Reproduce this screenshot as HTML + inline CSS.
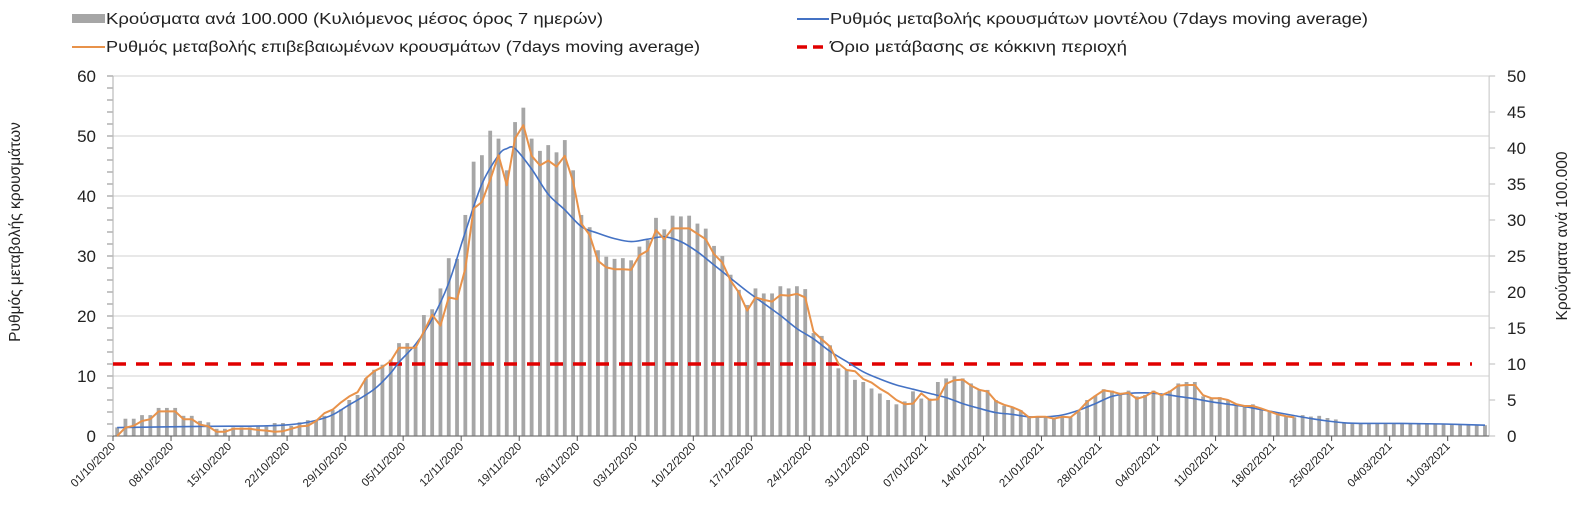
<!DOCTYPE html>
<html><head><meta charset="utf-8"><style>
html,body{margin:0;padding:0;background:#fff;}
svg{display:block;font-family:"Liberation Sans",sans-serif;}
</style></head><body>
<svg id="chart" width="1585" height="521" viewBox="0 0 1585 521" xmlns="http://www.w3.org/2000/svg">
<g id="legend" font-size="15.5" fill="#222">
 <g><rect x="72" y="14" width="33" height="9" fill="#a6a6a6"/><text x="106" y="24" textLength="497" lengthAdjust="spacingAndGlyphs">Κρούσματα ανά 100.000 (Κυλιόμενος μέσος όρος 7 ημερών)</text></g>
 <g><line x1="72" y1="47" x2="105" y2="47" stroke="#e8924a" stroke-width="2"/><text x="106" y="52" textLength="594" lengthAdjust="spacingAndGlyphs">Ρυθμός μεταβολής επιβεβαιωμένων κρουσμάτων (7days moving average)</text></g>
 <g><line x1="797" y1="19" x2="829" y2="19" stroke="#4472c4" stroke-width="2"/><text x="830" y="24" textLength="538" lengthAdjust="spacingAndGlyphs">Ρυθμός μεταβολής κρουσμάτων μοντέλου (7days moving average)</text></g>
 <g><line x1="797" y1="47" x2="829" y2="47" stroke="#e00000" stroke-width="3.5" stroke-dasharray="10,6"/><text x="830" y="52" textLength="297" lengthAdjust="spacingAndGlyphs">Όριο μετάβασης σε κόκκινη περιοχή</text></g>
</g>
<text font-size="15.5" fill="#222" text-anchor="middle" transform="translate(20,232) rotate(-90)">Ρυθμός μεταβολής κρουσμάτων</text>
<text font-size="15.5" fill="#222" text-anchor="middle" transform="translate(1567,236) rotate(-90)">Κρούσματα ανά 100.000</text>
<g id="grid"></g>
<g id="bars"></g>
<g id="axes"></g>
<g id="lines"></g>
</svg>
<script>
const startDate = [2020, 9, 1];
const leftTicks = [0,10,20,30,40,50,60];
const rightTicks = [0,5,10,15,20,25,30,35,40,45,50];
const threshold = 12;
const casesBars = [1.2,2.4,2.4,2.9,2.9,3.9,3.9,3.9,2.8,2.8,
2.1,1.9,1.0,1.0,1.2,1.2,1.2,1.3,1.3,1.8,
1.8,1.4,1.9,2.2,2.1,2.8,3.6,3.7,5.0,5.7,
8.0,9.2,9.9,10.6,12.9,12.9,12.4,16.8,17.6,20.5,
24.7,24.6,30.7,38.1,39.0,42.4,41.3,36.9,43.6,45.6,
41.3,39.6,40.4,39.4,41.1,36.9,30.7,29.0,25.8,24.9,
24.6,24.7,24.4,26.3,27.2,30.3,28.7,30.6,30.5,30.6,
29.5,28.8,26.4,25.0,22.4,20.3,18.2,20.5,19.8,19.8,
20.8,20.5,20.8,20.4,14.3,13.9,12.6,9.4,9.2,7.8,
7.5,6.6,5.9,5.0,4.4,4.8,6.2,5.2,5.2,7.5,
8.0,8.3,8.0,7.3,6.4,6.4,5.0,4.2,4.0,3.6,
2.6,2.6,2.6,2.5,2.6,2.6,3.4,5.0,5.6,6.5,
6.3,6.0,6.3,5.5,5.7,6.3,5.7,6.3,7.3,7.5,
7.5,5.5,5.2,5.4,5.0,4.3,4.1,4.4,3.8,3.4,
2.9,2.7,2.6,2.9,2.7,2.8,2.5,2.3,1.8,1.7,
1.7,1.7,1.7,1.7,1.7,1.7,1.7,1.7,1.7,1.7,
1.6,1.6,1.6,1.6,1.5,1.5];
const confirmedRate = [0,1.4,1.7,2.5,2.8,4.1,4.1,4.1,2.8,2.8,
1.9,1.6,0.7,0.7,1.2,1.2,1.2,1.0,0.9,0.7,
0.8,1.2,1.6,1.7,2.5,3.8,4.4,5.6,6.6,7.3,
9.6,10.8,11.5,12.5,14.7,14.7,14.7,17.4,20.2,18.4,
23.1,22.8,27.9,37.9,39.0,42.7,46.8,41.8,49.6,51.8,
46.7,45.1,45.9,44.9,46.7,42.4,35.4,33.5,29.2,28.1,
27.8,27.8,27.7,30.1,30.9,34.3,32.8,34.6,34.6,34.6,
33.7,32.8,30.3,28.9,25.9,23.9,20.9,23.1,22.7,22.4,
23.5,23.4,23.7,23.1,17.4,16.1,14.9,12.1,11.0,10.8,
9.5,8.9,7.9,7.1,6.0,5.3,5.4,7.1,6.0,6.1,
8.7,9.3,9.4,8.4,7.7,7.4,5.8,5.2,4.8,4.2,
3.1,3.2,3.2,2.9,3.2,3.1,4.2,5.7,6.7,7.6,
7.4,7.0,7.2,6.2,6.6,7.4,6.8,7.4,8.4,8.5,
8.5,6.8,6.3,6.3,6.0,5.3,5.0,5.0,4.6,4.1,
3.6,3.3,3.1];
const modelDays = [0,10,20,25,28,31,33,34,36,38,40,42,44,46,47,48,50,52,54,56,58,60,62,64,66,68,70,72,74,76,78,80,82,84,86,88,90,92,94,96,98,100,102,104,106,108,110,112,114,116,118,120,122,124,126,128,130,132,134,136,138,140,142,144,146,148,150,155,160,165];
const modelRate = [1.4,1.6,1.8,3.0,5.2,7.8,10.5,12.3,15.3,19.5,25.5,34,42,46.8,47.9,47.9,44.5,40.3,37.7,34.9,33.8,32.9,32.4,32.8,33.2,32.4,30.7,28.5,26.3,24.1,22.1,20.1,17.9,16.2,14.1,12.4,10.7,9.5,8.5,7.8,7.1,6.4,5.4,4.6,3.9,3.6,3.2,3.2,3.5,4.3,5.4,6.6,7.1,7.2,7.0,6.6,6.2,5.7,5.3,4.9,4.4,3.9,3.4,2.9,2.5,2.2,2.1,2.1,2.0,1.8];

const NS='http://www.w3.org/2000/svg';
const X0=113, DAY=8.29, NDAYS=166, YB=436, YT=76;
const xDay = d => X0 + DAY*d;
const xBar = i => X0 + DAY*(i+0.5);
const yL = v => YB - (v/60)*(YB-YT);
const yR = v => YB - (v/50)*(YB-YT);
const X1 = xDay(NDAYS);
function mk(tag, attrs, parent){const e=document.createElementNS(NS,tag);for(const k in attrs)e.setAttribute(k,attrs[k]);parent.appendChild(e);return e;}
const grid=document.getElementById('grid'), bars=document.getElementById('bars'), axes=document.getElementById('axes'), lines=document.getElementById('lines');

leftTicks.forEach(t=>{
  if(t>0){const g=mk('line',{x1:X0,x2:X1,y1:yL(t),y2:yL(t),stroke:'#d9d9d9','stroke-width':1.2},grid);
  
  }
  const l=mk('text',{x:96,y:yL(t)+6,'text-anchor':'end','font-size':17,fill:'#222'},axes);
  l.textContent=t;
  
  
});
for(let v=0;v<=60;v+=2){mk('line',{x1:X0-6,x2:X0,y1:yL(v),y2:yL(v),stroke:'#888','stroke-width':1},axes);}
rightTicks.forEach(t=>{
  mk('line',{x1:X1,x2:X1+6,y1:yR(t),y2:yR(t),stroke:'#bbb','stroke-width':1},axes);
  const l=mk('text',{x:1507,y:yR(t)+6,'font-size':17,fill:'#222'},axes);
  l.textContent=t;
  
  
});
mk('line',{x1:X0,x2:X0,y1:YT,y2:YB,stroke:'#bbb','stroke-width':1.2},axes);
mk('line',{x1:X1,x2:X1,y1:YT,y2:YB,stroke:'#ccc','stroke-width':1.2},axes);
mk('line',{x1:X0,x2:X1,y1:YB,y2:YB,stroke:'#777','stroke-width':1.2},axes);

casesBars.forEach((v,i)=>{
  const r=mk('rect',{x:xBar(i)-1.9,y:yR(v),width:3.8,height:YB-yR(v),fill:'#a6a6a6'},bars);
  
  
});

const pad=n=>String(n).padStart(2,'0');
for(let d=0; d<NDAYS; d+=7){
  const dt=new Date(startDate[0],startDate[1],startDate[2]+d);
  const x=xDay(d);
  mk('line',{x1:x,x2:x,y1:YB,y2:YB+5,stroke:'#555','stroke-width':1},axes);
  const t=mk('text',{'text-anchor':'end','font-size':11.5,fill:'#222',transform:`translate(${x+3},${YB+11}) rotate(-45)`},axes);
  t.textContent=pad(dt.getDate())+'/'+pad(dt.getMonth()+1)+'/'+dt.getFullYear();
  
  
}

const th=mk('line',{x1:X0,x2:1472,y1:yL(threshold),y2:yL(threshold),stroke:'#e00000','stroke-width':3.5,'stroke-dasharray':'13,10'},lines);



const pts=modelDays.map((d,i)=>[xBar(d),yL(modelRate[i])]);
let dstr='M'+pts[0][0]+','+pts[0][1];
for(let i=0;i<pts.length-1;i++){
  const p0=pts[Math.max(0,i-1)],p1=pts[i],p2=pts[i+1],p3=pts[Math.min(pts.length-1,i+2)];
  const c1=[p1[0]+(p2[0]-p0[0])/6,p1[1]+(p2[1]-p0[1])/6], c2=[p2[0]-(p3[0]-p1[0])/6,p2[1]-(p3[1]-p1[1])/6];
  dstr+=` C${c1[0]},${c1[1]} ${c2[0]},${c2[1]} ${p2[0]},${p2[1]}`;
}
const mp=mk('path',{d:dstr,fill:'none',stroke:'#4472c4','stroke-width':1.6},lines);



const op=mk('polyline',{points:confirmedRate.map((v,i)=>xBar(i)+','+yL(v)).join(' '),fill:'none',stroke:'#e8924a','stroke-width':2,'stroke-linejoin':'round'},lines);


</script>
</body></html>
